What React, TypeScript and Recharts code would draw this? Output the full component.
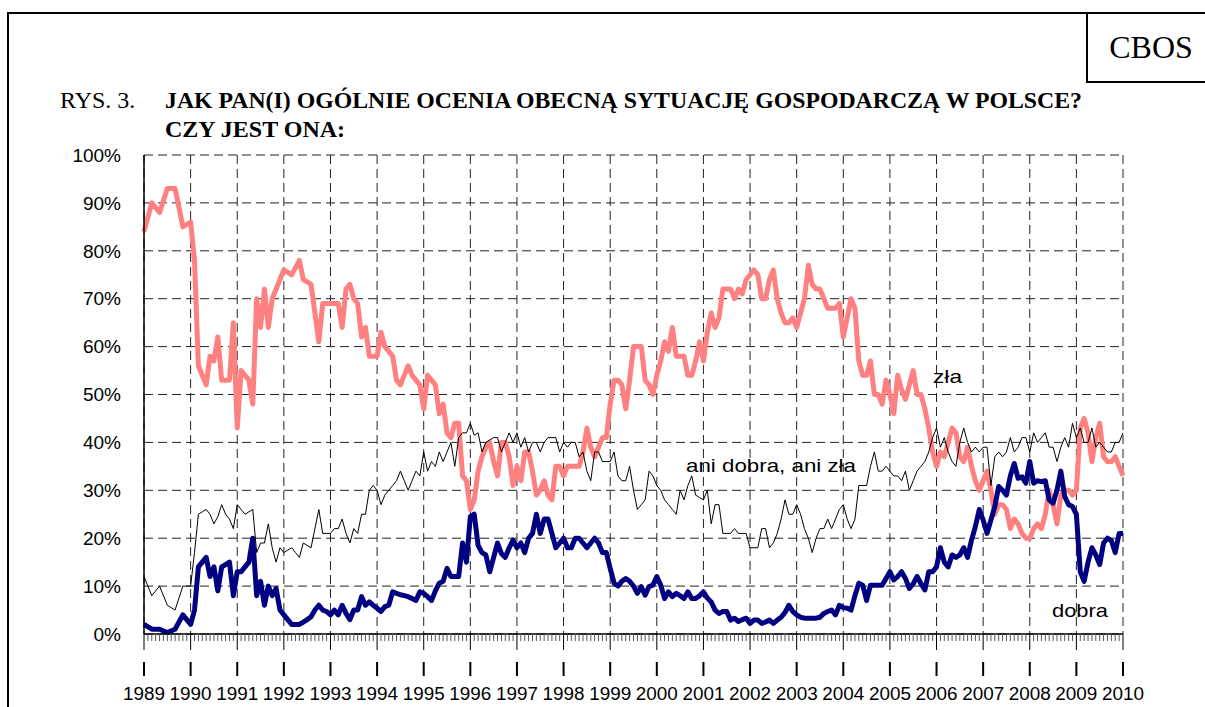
import React from "react";
import { LineChart, Line, XAxis, YAxis, CartesianGrid } from "recharts";

// survey months, counted from January 1989 (bi-monthly in 1989, monthly afterwards)
const months = [0, 2, 4, 6, 8, 10, ...Array.from({ length: 241 }, (_, i) => 12 + i)];
const years = [
  1989, 1990, 1991, 1992, 1993, 1994, 1995, 1996, 1997, 1998, 1999,
  2000, 2001, 2002, 2003, 2004, 2005, 2006, 2007, 2008, 2009, 2010,
];
const percentTicks = [0, 10, 20, 30, 40, 50, 60, 70, 80, 90, 100];

// "zła"
const zla = [
  84, 90, 88, 93, 93, 85,
  86, 78, 56, 54, 52, 58, 57, 62, 53, 53, 53, 65,
  43, 55, 54, 53, 48, 70, 64, 72, 64, 70, 72, 74,
  76, 75.5, 75, 76.5, 78, 74, 73.5, 73, 67, 61, 69, 69,
  69, 69, 69, 64, 72, 73, 70, 69, 62, 64, 58, 58,
  58, 63, 60, 59, 58, 53, 52, 54, 56, 54, 53, 52,
  47, 54, 53, 52, 46, 48, 42, 41, 44, 44, 33, 32,
  26, 28, 34, 37, 39, 40, 36, 33, 40, 40, 37, 31,
  35, 32, 38, 38, 34, 29, 30, 32, 29, 28, 35, 35,
  33, 35, 35, 35, 35, 38, 43, 39, 37, 39, 41, 41,
  48, 53, 53, 52, 47, 53, 60, 60, 60, 53, 52, 50,
  54, 57, 61, 59, 64, 58, 58, 58, 54, 54, 57, 61,
  57, 63, 67, 64, 66, 72, 72, 72, 70, 72, 71, 74,
  75, 76, 75, 70, 70, 74, 76, 70, 67, 65, 65, 66,
  64, 67, 70, 77, 73, 72, 72, 70, 68, 68, 68, 69,
  62, 66, 70, 68, 57, 54, 54, 57, 50, 50, 48, 53,
  50, 46, 54, 51, 49, 52, 55, 50, 50, 47, 43, 38,
  35, 38, 37, 40, 43, 42, 37, 36, 39, 35, 32, 30,
  32, 34, 30, 25, 27, 27, 26, 22, 24, 23, 21, 20,
  20, 22, 23, 22, 25, 30, 27, 23, 29, 30, 30, 29,
  30, 43, 45, 42, 36, 41, 44, 37, 36, 36, 37, 35,
  33,
];

// "ani dobra, ani zła"
const ani = [
  12, 8, 10, 6, 5, 10,
  10, 17, 25, 25.5, 26, 25, 23, 24.5, 27, 25, 24, 22,
  27, 26, 25, 25.5, 26, 17, 19, 19, 23, 18, 15, 18,
  17, 17.5, 18, 17, 16, 19, 18.5, 18, 22, 26, 21, 21,
  21, 22, 22, 24, 21, 19, 22, 21, 25, 25, 30, 31,
  30, 27, 29, 30, 31, 32, 34, 32, 30, 32, 34, 33,
  38, 34, 36, 35, 38, 36, 38, 40, 35, 41, 42, 42,
  44, 41.5, 42, 38, 40, 40.5, 41, 41, 38, 40, 42, 40,
  42, 39, 41, 38, 40, 40, 38, 40, 41, 41, 41, 38,
  40, 39, 40, 40, 37, 38, 34, 32, 38, 38, 36, 36,
  36, 38, 33, 32, 32, 35, 30, 26, 27, 28, 34, 33,
  31, 30, 28, 27, 26, 25, 30, 28, 31, 33, 29, 28.5,
  28, 30, 23, 27, 27, 21, 21, 21, 22, 21, 21, 21,
  18, 18, 18, 22, 22, 18, 19, 21, 24, 28, 25, 25,
  27, 25, 22, 20, 17, 20, 22, 22, 24, 22, 24, 26,
  27, 24, 22, 24, 31, 31, 31, 35, 38, 34, 34, 35,
  34, 33, 33, 32, 34, 30, 32, 34, 35, 36, 38, 41,
  43, 39, 41, 38, 36, 35, 40, 43, 40, 38, 39, 38,
  39, 39, 31, 37, 38, 37, 38, 41, 38, 39, 41, 41,
  38, 42, 40, 41, 42, 39, 39, 36, 39, 41, 39, 44,
  41, 43, 40, 40, 43, 39, 40, 39, 38, 38, 40, 40,
  42,
];

// "dobra"
const dobra = [
  2, 1, 1, 0.3, 1, 4,
  2, 5, 14, 15, 16, 12, 14, 9, 14, 14.5, 15, 8,
  13, 13, 14, 15, 20, 8, 11, 6, 10, 8, 9.5, 5,
  4, 3, 2, 2, 2, 2.5, 3, 3.6, 5, 6, 5, 4.7,
  4, 5, 4, 6, 4.3, 3, 5, 5, 7.8, 6, 6.7, 6,
  5.4, 4.7, 5.7, 6, 8.8, 8.5, 8.2, 8, 7.8, 7.4, 7, 8.8,
  8.5, 7.8, 7, 9, 10.6, 11, 13.7, 12, 12, 12, 19, 15,
  24.5, 25, 18.5, 17, 16.5, 13, 16, 19, 16.8, 16, 18, 19.6,
  18, 19, 17, 20, 21, 25, 21, 24, 24, 21, 18, 19,
  20, 18, 18, 20, 20, 19, 18, 19, 20, 19, 17, 17,
  13.7, 10.6, 10, 11, 11.6, 11, 10, 8.5, 9.9, 8.1, 9.9, 10.2,
  12, 10.2, 7.4, 8.8, 7.8, 8.5, 8, 7.4, 8.8, 7.4, 7.4, 8,
  8.8, 7.5, 6.7, 5, 4.3, 4.7, 4.7, 2.9, 3.3, 2.6, 3, 3.3,
  2.2, 2.9, 2.9, 2.2, 2.5, 2.9, 2.2, 2.9, 3.5, 4.5, 6, 4.7,
  4, 3.5, 3.3, 3.3, 3.3, 3.3, 3.5, 4.3, 4.7, 5, 4, 6,
  5.5, 5.4, 5, 8, 10.6, 10.2, 7, 10.2, 10.2, 10.2, 10.2, 11.6,
  13, 11.3, 12, 13, 11.6, 9.5, 10.5, 12, 10.5, 9.2, 13, 13,
  14, 18, 15, 14, 16.5, 16, 16.5, 18, 16, 19.6, 22.4, 26,
  23.8, 21, 23.8, 26.6, 30.8, 30, 29, 33, 35.6, 32.5, 32.8, 31.5,
  36, 31.5, 32, 31.8, 32, 28, 27.3, 30, 34, 28.7, 27, 26.6,
  25, 13, 11, 15, 18, 16.5, 14.5, 19, 20, 19.5, 17, 21,
  21,
];

const data = months.map((m, i) => ({ m, zla: zla[i], ani: ani[i], dobra: dobra[i] }));
const yearTicks = years.map((y) => (y - years[0]) * 12);
const monthTicks = Array.from({ length: yearTicks[yearTicks.length - 1] + 1 }, (_, i) => i);

const SANS = "'Liberation Sans', Arial, sans-serif";
const SERIF = "'Liberation Serif', 'Times New Roman', serif";

// month ticks on the axis line; each January also gets a long tick,
// a separate short bar further down and the year label
const MonthTick = (props: any) => {
  const { x, y, payload } = props;
  if (payload.value % 12 !== 0) {
    return <line x1={x} x2={x} y1={y} y2={y + 7} stroke="#555" strokeWidth={1} />;
  }
  return (
    <g>
      <rect x={x - 0.5} y={y} width={1} height={16} fill="#000" stroke="none" />
      <rect x={x - 1} y={y + 28} width={2} height={14} fill="#000" stroke="none" />
      <text
        x={x}
        y={y + 66}
        textAnchor="middle"
        fontSize={18}
        fontFamily={SANS}
        fill="#000"
        stroke="none"
        textLength={42}
        lengthAdjust="spacingAndGlyphs"
      >
        {years[0] + payload.value / 12}
      </text>
    </g>
  );
};

export default function App() {
  return (
    <div style={{ position: "absolute", left: 0, top: 0, width: 1205, height: 707, background: "#fff", overflow: "hidden" }}>
      <LineChart width={1205} height={707} data={data} margin={{ top: 155, right: 82, bottom: 0, left: 0 }}>
        <CartesianGrid xAxisId="years" stroke="#222" strokeWidth={1} strokeDasharray="9 5" />
        <XAxis
          xAxisId="minor"
          dataKey="m"
          type="number"
          domain={[0, 252]}
          ticks={monthTicks}
          interval={0}
          height={73}
          axisLine={{ stroke: "#000", strokeWidth: 1.5 }}
          tickLine={false}
          tickSize={0}
          tickMargin={0}
          tick={MonthTick}
        />
        <XAxis xAxisId="years" dataKey="m" type="number" domain={[0, 252]} ticks={yearTicks} interval={0} hide />
        <XAxis xAxisId="top" orientation="top" type="number" domain={[0, 252]} height={0} tick={false} tickLine={false} axisLine={{ stroke: "#000", strokeWidth: 1.5 }} />
        <YAxis
          type="number"
          domain={[0, 100]}
          ticks={percentTicks}
          interval={0}
          width={144}
          axisLine={{ stroke: "#000", strokeWidth: 1.5 }}
          tickLine={false}
          tickSize={0}
          tickMargin={23}
          tickFormatter={(v: number) => `${v}%`}
          tick={{ fontSize: 19, fontFamily: SANS, fill: "#000" }}
        />
        <YAxis yAxisId="right" orientation="right" type="number" domain={[0, 100]} width={0} tick={false} tickLine={false} axisLine={{ stroke: "#555", strokeWidth: 1.5 }} />
        <Line xAxisId="minor" type="linear" dataKey="zla" stroke="#FF8080" strokeWidth={5} dot={false} strokeLinejoin="round" isAnimationActive={false} />
        <Line xAxisId="minor" type="linear" dataKey="ani" stroke="#000" strokeWidth={1} dot={false} isAnimationActive={false} />
        <Line xAxisId="minor" type="linear" dataKey="dobra" stroke="#000080" strokeWidth={5} dot={false} strokeLinejoin="round" isAnimationActive={false} />
      </LineChart>

      <svg width={1205} height={707} style={{ position: "absolute", left: 0, top: 0, pointerEvents: "none" }}>
        <line x1={8} y1={13} x2={1205} y2={13} stroke="#000" strokeWidth={2} />
        <line x1={8} y1={12} x2={8} y2={707} stroke="#000" strokeWidth={2} />
        <rect x={1087} y={13} width={200} height={69} fill="none" stroke="#000" strokeWidth={2} />
        <text x={1151} y={58} textAnchor="middle" fontFamily={SERIF} fontSize={32} fill="#000">CBOS</text>

        <text x={60} y={108} fontFamily={SERIF} fontSize={24} fill="#000">RYS. 3.</text>
        <text x={165} y={108} fontFamily={SERIF} fontSize={24} fontWeight="bold" fill="#000" textLength={917} lengthAdjust="spacingAndGlyphs">
          JAK PAN(I) OGÓLNIE OCENIA OBECNĄ SYTUACJĘ GOSPODARCZĄ W POLSCE?
        </text>
        <text x={165} y={137} fontFamily={SERIF} fontSize={24} fontWeight="bold" fill="#000">CZY JEST ONA:</text>

        <text x={933} y={383} fontFamily={SANS} fontSize={19} fill="#000" textLength={29} lengthAdjust="spacingAndGlyphs">zła</text>
        <text x={686} y={472} fontFamily={SANS} fontSize={19} fill="#000" textLength={170} lengthAdjust="spacingAndGlyphs">ani dobra, ani zła</text>
        <text x={1052} y={617} fontFamily={SANS} fontSize={19} fill="#000" textLength={56} lengthAdjust="spacingAndGlyphs">dobra</text>
      </svg>
    </div>
  );
}
